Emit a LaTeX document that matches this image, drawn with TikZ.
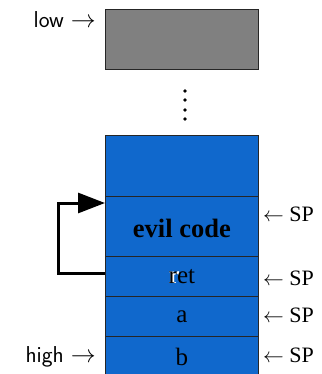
\documentclass[tikz,border=0pt]{standalone}
\usepackage{fontspec}
\setmainfont{Liberation Serif}
\usetikzlibrary{arrows.meta}
\definecolor{stackblue}{RGB}{16,104,204}
\definecolor{cellgrey}{RGB}{128,128,128}
\begin{document}
\begin{tikzpicture}[x=1pt,y=-1pt,
  cell/.style={draw=black!85,line width=0.8pt,fill=stackblue,minimum width=153pt,inner sep=0pt,anchor=north west,font=\fontsize{25}{27}\selectfont},
  sptext/.style={anchor=west,font=\fontsize{22}{24}\selectfont,inner sep=0pt},
  side/.style={anchor=east,font=\sffamily\fontsize{23}{25}\selectfont,inner sep=0pt}]
\useasboundingbox (0,0) rectangle (321,374);
\node[cell,fill=cellgrey,minimum height=60pt] (grey) at (105,9) {};
\foreach \yy in {91,100,110,119} \fill (185,\yy) circle (1.8pt);
\node[cell,minimum height=61pt] (top) at (105,135) {};
\node[cell,minimum height=60pt,text depth=0pt] (evil) at (105,196) {\raisebox{-3pt}{\fontsize{26.5}{28}\selectfont\bfseries evil code}};
\node[cell,minimum height=40pt] (ret) at (105,256) {{\color{white}\rlap{\bfseries r}}ret};
\node[cell,minimum height=40pt] (a) at (105,296) {a};
\node[cell,minimum height=42pt] (b) at (105,336) {b};
\node[side] (low) at (96,20) {low $\rightarrow$};
\node[side] (high) at (96,357) {high $\rightarrow$};
\node[sptext] (sp1) at (263,214) {$\leftarrow$ SP};
\node[sptext] (sp2) at (263,278) {$\leftarrow$ SP};
\node[sptext] (sp3) at (263,315) {$\leftarrow$ SP};
\node[sptext] (sp4) at (263,355) {$\leftarrow$ SP};
\coordinate (tgt) at (105,203);
\coordinate (src) at (105,273);
\draw[line width=3pt,-{Triangle[length=27pt,width=20pt]}] (src) -- (58,273) |- (tgt);
\end{tikzpicture}
\end{document}
